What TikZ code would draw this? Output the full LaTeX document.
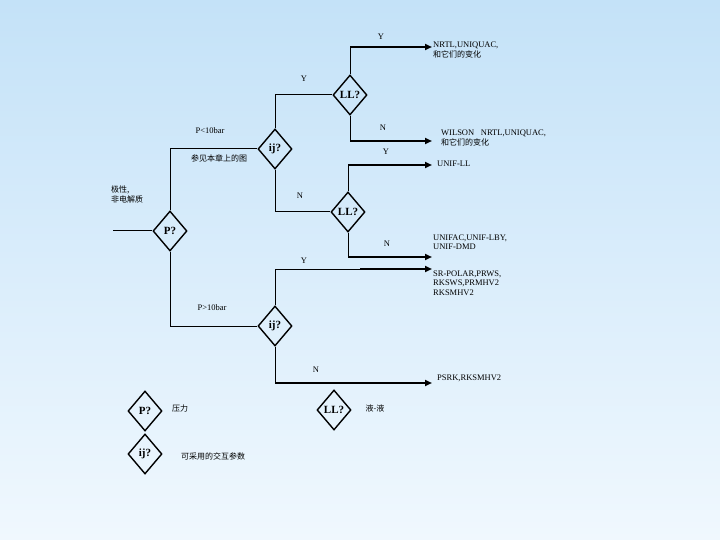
\documentclass[tikz,border=0pt]{standalone}
\usepackage{fontspec}
\setmainfont{Liberation Serif}
\newfontfamily\cjk{Noto Sans CJK SC}
\usetikzlibrary{shapes.geometric,arrows.meta}
\begin{document}
\begin{tikzpicture}[x=1pt,y=-1pt,
  dia/.style={diamond,draw,line width=1.4pt,minimum width=34pt,minimum height=40pt,inner sep=0pt,font=\bfseries\fontsize{11}{11}\selectfont},
  ln/.style={line width=1pt},
  ar/.style={line width=1.8pt,-{Triangle[length=7pt,width=6pt]}},
  lb/.style={font=\fontsize{8.5}{9.5}\selectfont,inner sep=0pt},
  zh/.style={font=\cjk\fontsize{8}{10}\selectfont,inner sep=0pt,align=left}]
\shade[top color={rgb,255:red,196;green,226;blue,248},bottom color={rgb,255:red,240;green,248;blue,254}] (0,0) rectangle (720,540);
\useasboundingbox (0,0) rectangle (720,540);
\node[dia] (P) at (170,231) {P?};
\node[dia] (ij1) at (275,149) {ij?};
\node[dia] (LL1) at (350,95) {LL?};
\node[dia] (LL2) at (348,212) {LL?};
\node[dia] (ij2) at (275,326) {ij?};
\coordinate (in) at (113,231);
\coordinate (e1) at (432,47);
\coordinate (e2) at (432,141);
\coordinate (e3) at (432,165);
\coordinate (e4) at (432,257);
\coordinate (e5) at (432,269);
\coordinate (e6) at (432,383);
\draw[ln] (in) -- (P.west);
\draw[ln] (P.north) |- (ij1.west);
\draw[ln] (P.south) |- (ij2.west);
\draw[ln] (ij1.north) |- (LL1.west);
\draw[ln] (ij1.south) |- (LL2.west);
\draw[ln] (LL1.north) -- (LL1.north |- e1);
\draw[ar] (LL1.north |- e1) -- (e1);
\draw[ln] (LL1.south) -- (LL1.south |- e2);
\draw[ar] (LL1.south |- e2) -- (e2);
\draw[ln] (LL2.north) -- (LL2.north |- e3);
\draw[ar] (LL2.north |- e3) -- (e3);
\draw[ln] (LL2.south) -- (LL2.south |- e4);
\draw[ar] (LL2.south |- e4) -- (e4);
\draw[ln] (ij2.north) -- (ij2.north |- e5);
\draw[ln] (ij2.north |- e5) -- (360,269);
\draw[ar] (360,269) -- (e5);
\draw[ln] (ij2.south) -- (ij2.south |- e6);
\draw[ar] (ij2.south |- e6) -- (e6);
\node[lb] (y1) at (381,37) {Y};
\node[lb] (y2) at (304,79) {Y};
\node[lb] (n1) at (383,128) {N};
\node[lb] (y3) at (386,152) {Y};
\node[lb] (n2) at (300,196) {N};
\node[lb] (n3) at (387,244) {N};
\node[lb] (y4) at (304,261) {Y};
\node[lb] (n4) at (316,370) {N};
\node[lb] (p1) at (210,131) {P<10bar};
\node[lb] (p2) at (212,308) {P>10bar};
\node[zh] (see) at (219,158) {参见本章上的图};
\node[zh] (pol) at (127,194) {极性,\\非电解质};
\node[zh,anchor=west] (r1) at (433,50) {\rmfamily\fontsize{8.5}{10}\selectfont NRTL,UNIQUAC,\\和它们的变化};
\node[zh,anchor=west] (r2) at (441,138) {\rmfamily\fontsize{8.5}{10}\selectfont WILSON，NRTL,UNIQUAC,\\和它们的变化};
\node[lb,anchor=west] (r3) at (437,164) {UNIF-LL};
\node[lb,anchor=west,align=left] (r4) at (433,242) {UNIFAC,UNIF-LBY,\\UNIF-DMD};
\node[lb,anchor=west,align=left] (r5) at (433,283) {SR-POLAR,PRWS,\\RKSWS,PRMHV2\\RKSMHV2};
\node[lb,anchor=west] (r6) at (437,378) {PSRK,RKSMHV2};
\node[dia] (lp) at (145,411) {P?};
\node[dia] (lij) at (145,454) {ij?};
\node[dia] (lll) at (334,410) {LL?};
\node[zh] (t1) at (180,408) {压力};
\node[zh] (t2) at (213,456) {可采用的交互参数};
\node[zh] (t3) at (375,408) {液-液};
\end{tikzpicture}
\end{document}
